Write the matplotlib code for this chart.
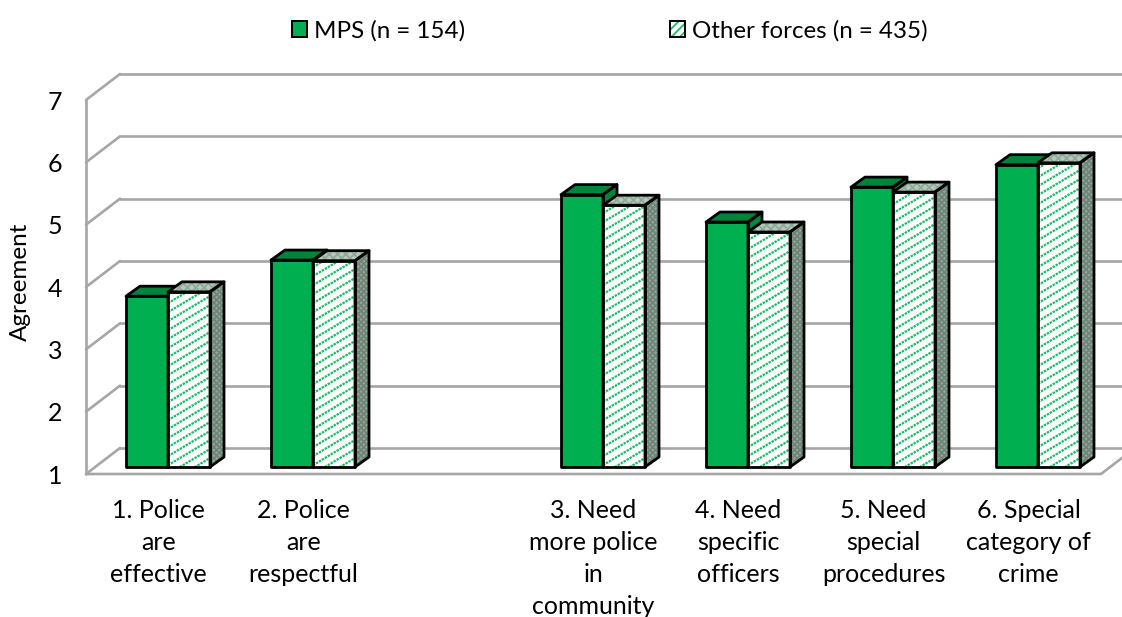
import numpy as np
import matplotlib
matplotlib.use("Agg")
import matplotlib.pyplot as plt
from matplotlib.patches import Polygon, Patch
from matplotlib.legend_handler import HandlerTuple

categories = ["1. Police\nare\neffective", "2. Police\nare\nrespectful", "",
              "3. Need\nmore police\nin\ncommunity", "4. Need\nspecific\nofficers",
              "5. Need\nspecial\nprocedures", "6. Special\ncategory of\ncrime"]
mps = [3.74, 4.32, None, 5.37, 4.93, 5.49, 5.85]
other = [3.81, 4.31, None, 5.20, 4.77, 5.41, 5.88]
value_ticks = [1, 2, 3, 4, 5, 6, 7]

W, H = 1122, 617
plt.rcParams["font.family"] = ["Lato", "DejaVu Sans"]
plt.rcParams["hatch.linewidth"] = 1.3

GREEN = "#00B050"
DARK_GREEN = "#00843C"
STRIPE = "#19BE66"
GRID = "#A6A6A6"
EDGE_LW = 2.0

fig = plt.figure(figsize=(W / 100, H / 100), dpi=100)
left, right, top, bottom = 86, 1101, 100, 474
ax = fig.add_axes([left / W, 1 - bottom / H, (right - left) / W, (bottom - top) / H])
ax.set_xlim(0, len(categories))
ax.set_ylim(1, 7)
for s in ax.spines.values():
    s.set_visible(False)

# pixel lengths expressed in axis units
ux = (right - left) / len(categories)
uy = (bottom - top) / 6
wall_dx, wall_dy = 34 / ux, 26 / uy
bar_w = 42 / ux
bar_dx, bar_dy = 14 / ux, 10 / uy
plane_dx, plane_dy = 9.5 / ux, 7 / uy


def line(xs, ys, z=1):
    ax.plot(xs, ys, color=GRID, lw=1.9, clip_on=False, zorder=z, solid_capstyle="round")


# walls and gridlines
for v in value_ticks:
    line([0, wall_dx], [v, v + wall_dy])
    line([wall_dx, len(categories) + wall_dx], [v + wall_dy, v + wall_dy])
line([0, 0], [1, 7])
line([0, len(categories), len(categories) + wall_dx], [1, 1, 1 + wall_dy])


def outline(pts, z):
    ax.add_patch(Polygon(pts, closed=True, fill=False, edgecolor="black", lw=EDGE_LW,
                         joinstyle="round", clip_on=False, zorder=z + 0.2))


def face(pts, fc, z, hatch=None, hatch_color=None):
    ax.add_patch(Polygon(pts, closed=True, facecolor=fc, edgecolor=hatch_color or fc, hatch=hatch,
                         lw=0, clip_on=False, zorder=z))
    outline(pts, z)


def striped_face(pts, z):
    """White face crossed by shallow dotted green stripes."""
    base = Polygon(pts, closed=True, facecolor="white", edgecolor="none", clip_on=False, zorder=z)
    ax.add_patch(base)
    (x0, y0), _, (x1, y1), _ = pts
    run = (x1 - x0) * ux
    for off in np.arange(0, (y1 - y0) * uy + 0.6 * run + 9, 9.0):
        ys = np.array([y0 + off / uy - 0.6 * run / uy, y0 + off / uy])
        ln, = ax.plot([x0, x1], ys, color=STRIPE, lw=1.6, ls=(0, (1.1, 0.45)), zorder=z + 0.1)
        ln.set_clip_path(base)
    outline(pts, z)


def bar(x0, v, z, style):
    y0 = 1 + plane_dy
    v = v + plane_dy
    x1 = x0 + bar_w
    face([(x1, y0), (x1 + bar_dx, y0 + bar_dy), (x1 + bar_dx, v + bar_dy), (x1, v)], z=z, **style["side"])
    face([(x0, v), (x0 + bar_dx, v + bar_dy), (x1 + bar_dx, v + bar_dy), (x1, v)], z=z, **style["roof"])
    front = [(x0, y0), (x1, y0), (x1, v), (x0, v)]
    if style["front"] is None:
        striped_face(front, z)
    else:
        face(front, z=z, **style["front"])


mps_style = dict(
    front=dict(fc=GREEN),
    side=dict(fc=DARK_GREEN),
    roof=dict(fc=DARK_GREEN),
)
other_style = dict(
    front=None,
    side=dict(fc="#93A99B", hatch="xxxxxx", hatch_color="#6F8577"),
    roof=dict(fc="#B4C9BA", hatch="xxxx", hatch_color="#8FAA98"),
)

for i, (a, b) in enumerate(zip(mps, other)):
    if a is None:
        continue
    centre = i + 0.5 + plane_dx
    bar(centre - bar_w, a, 3, mps_style)
    bar(centre, b, 4, other_style)

ax.set_xticks([i + 0.5 for i in range(len(categories))])
ax.set_xticklabels(categories, fontsize=18, linespacing=1.48, color="black")
ax.set_yticks(value_ticks)
ax.set_yticklabels([str(v) for v in value_ticks], fontsize=18)
ax.tick_params(axis="both", length=0)
ax.tick_params(axis="x", pad=17.8)
ax.tick_params(axis="y", pad=17)
ax.set_ylabel("Agreement", fontsize=17.5, labelpad=12, y=0.513)

# legend
h1 = Patch(facecolor=GREEN, edgecolor="black", lw=1.4)
h2a = Patch(facecolor="white", edgecolor=STRIPE, hatch="////", lw=0)
h2b = Patch(fill=False, edgecolor="black", lw=1.4)
fig.legend([h1, (h2a, h2b)], ["MPS (n = 154)", "Other forces (n = 435)"],
           handler_map={tuple: HandlerTuple(ndivide=1, pad=0)},
           loc="center", bbox_to_anchor=(610 / W, 1 - 31 / H), ncol=2, frameon=False,
           fontsize=17.4, handlelength=0.62, handleheight=0.62, handletextpad=0.29,
           columnspacing=8.5, borderpad=0, borderaxespad=0)

fig.savefig("out.png", dpi=100, facecolor="white")
